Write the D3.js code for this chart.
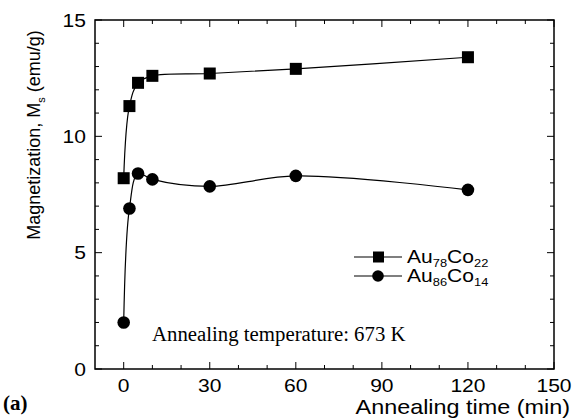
<!DOCTYPE html>
<html>
<head>
<meta charset="utf-8">
<script src="https://cdn.jsdelivr.net/npm/d3@7"></script>
<style>
body { margin: 0; background: #fff; }
svg { display: block; }
.sans { font-family: "Liberation Sans", Arial, sans-serif; }
.serif { font-family: "Liberation Serif", "Times New Roman", serif; }
</style>
</head>
<body>
<svg id="chart" width="577" height="419"></svg>
<script>
// annealing time (min)
var times = [0, 2, 5, 10, 30, 60, 120];
// Ms (emu/g) for each alloy
var au78co22 = [8.2, 11.3, 12.3, 12.6, 12.7, 12.9, 13.4];
var au86co14 = [2.0, 6.9, 8.4, 8.15, 7.85, 8.3, 7.7];

var xTicks = [0, 30, 60, 90, 120, 150];
var yTicks = [0, 5, 10, 15];

var svg = d3.select('#chart');

// plot box (don't call it "top", window.top is taken)
var pLeft = 95, pTop = 20, pRight = 554, pBottom = 369;

// the scan is a bit stretched sideways, so the sans text is too
var sx = 1.17;

var x = d3.scaleLinear().domain([-10, 150]).range([pLeft, pRight]);
var y = d3.scaleLinear().domain([0, 15]).range([pBottom, pTop]);

var xMinor = d3.range(0, 151, 10);
var yMinor = d3.range(0, 16, 1);

function stext(px, py, anchor, size) {
    return svg.append('g')
        .attr('transform', 'translate(' + px + ',' + py + ') scale(' + sx + ',1)')
        .append('text')
        .attr('class', 'sans')
        .attr('text-anchor', anchor)
        .attr('font-size', size);
}

// frame
svg.append('rect')
    .attr('x', pLeft).attr('y', pTop)
    .attr('width', pRight - pLeft).attr('height', pBottom - pTop)
    .attr('fill', 'none').attr('stroke', '#000').attr('stroke-width', 1.5);

// ticks, all pointing inward, mirrored on opposite sides
function tickLen(v, majors) { return majors.indexOf(v) >= 0 ? 7 : 4; }

var g = svg.append('g').attr('stroke', '#000').attr('stroke-width', 1);
xMinor.forEach(function(v) {
    var l = tickLen(v, xTicks);
    g.append('line').attr('x1', x(v)).attr('x2', x(v)).attr('y1', pBottom).attr('y2', pBottom - l);
    g.append('line').attr('x1', x(v)).attr('x2', x(v)).attr('y1', pTop).attr('y2', pTop + l);
});
yMinor.forEach(function(v) {
    var l = tickLen(v, yTicks);
    g.append('line').attr('y1', y(v)).attr('y2', y(v)).attr('x1', pLeft).attr('x2', pLeft + l);
    g.append('line').attr('y1', y(v)).attr('y2', y(v)).attr('x1', pRight).attr('x2', pRight - l);
});

// tick labels
xTicks.forEach(function(d) {
    stext(x(d), 392, 'middle', 18).text(d);
});
yTicks.forEach(function(d) {
    stext(86, y(d) + 6.5, 'end', 18).text(d);
});

// axis titles
stext(570, 414, 'end', 20).text('Annealing time (min)');

var yt = svg.append('text').attr('class', 'sans')
    .attr('transform', 'translate(40,135) rotate(-90)')
    .attr('text-anchor', 'middle')
    .attr('font-size', 18);
yt.append('tspan').text('Magnetization, M');
yt.append('tspan').attr('font-size', 11).attr('dy', 5).text('s');
yt.append('tspan').attr('dy', -5).text(' (emu/g)');

svg.append('text').attr('class', 'serif')
    .attr('x', 3).attr('y', 410)
    .attr('font-size', 21).attr('font-weight', 'bold')
    .text('(a)');

svg.append('text').attr('class', 'serif')
    .attr('x', 152).attr('y', 341)
    .attr('font-size', 20.8)
    .text('Annealing temperature: 673 K');

// curves
var line = d3.line()
    .x(function(d) { return x(d[0]); })
    .y(function(d) { return y(d[1]); })
    .curve(d3.curveCatmullRom.alpha(0.5));

var sq = d3.zip(times, au78co22);
var ci = d3.zip(times, au86co14);

[sq, ci].forEach(function(s) {
    svg.append('path').datum(s)
        .attr('d', line)
        .attr('fill', 'none').attr('stroke', '#000').attr('stroke-width', 1.2);
});

var ms = 12;
svg.selectAll('.sq').data(sq).enter().append('rect')
    .attr('x', function(d) { return x(d[0]) - ms / 2; })
    .attr('y', function(d) { return y(d[1]) - ms / 2; })
    .attr('width', ms).attr('height', ms)
    .attr('fill', '#000');

svg.selectAll('.ci').data(ci).enter().append('circle')
    .attr('cx', function(d) { return x(d[0]); })
    .attr('cy', function(d) { return y(d[1]); })
    .attr('r', 6.3)
    .attr('fill', '#000');

// legend
var legend = [
    { name: ['Au', '78', 'Co', '22'], shape: 'square', cy: 257 },
    { name: ['Au', '86', 'Co', '14'], shape: 'circle', cy: 276 }
];
legend.forEach(function(l) {
    svg.append('line').attr('x1', 354).attr('x2', 402)
        .attr('y1', l.cy).attr('y2', l.cy)
        .attr('stroke', '#000').attr('stroke-width', 1.2);
    if (l.shape == 'square') {
        svg.append('rect').attr('x', 373).attr('y', l.cy - 5.5)
            .attr('width', 11).attr('height', 11).attr('fill', '#000');
    } else {
        svg.append('circle').attr('cx', 378).attr('cy', l.cy).attr('r', 5.8).attr('fill', '#000');
    }
    var t = stext(407, l.cy + 6, 'start', 18);
    t.append('tspan').text(l.name[0]);
    t.append('tspan').attr('font-size', 11).attr('dy', 4).text(l.name[1]);
    t.append('tspan').attr('dy', -4).text(l.name[2]);
    t.append('tspan').attr('font-size', 11).attr('dy', 4).text(l.name[3]);
});
</script>
</body>
</html>
